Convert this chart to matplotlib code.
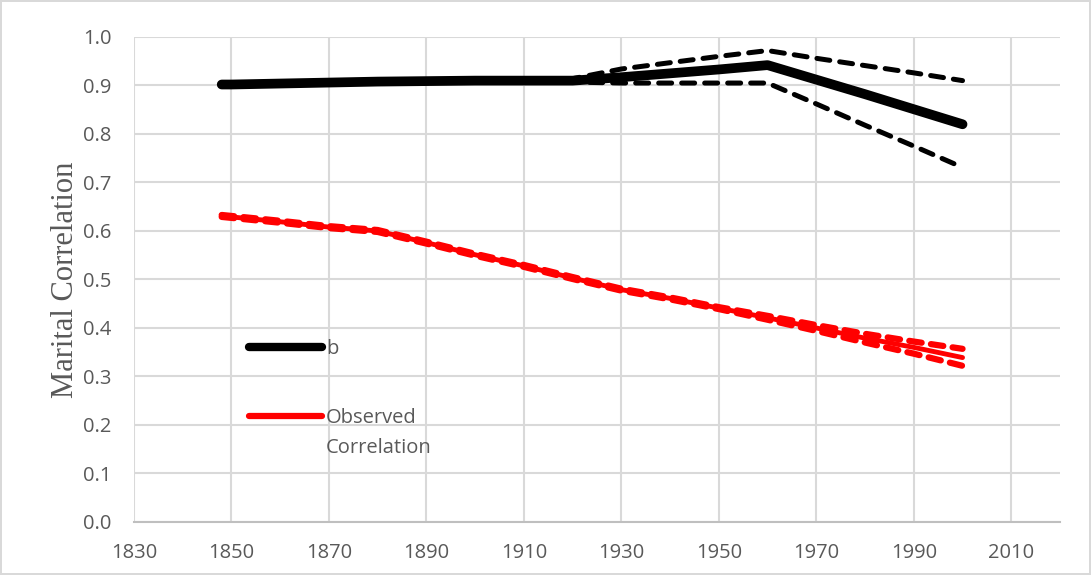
import numpy as np
import matplotlib
matplotlib.use("Agg")
import matplotlib.pyplot as plt
from matplotlib.lines import Line2D

# 数据
years = [1848, 1850, 1860, 1870, 1880, 1890, 1900, 1910, 1920, 1930, 1940, 1950, 1960, 1970, 1980, 1990, 2000]

b_mid = [0.902, 0.902, 0.904, 0.906, 0.908, 0.909, 0.910, 0.910, 0.910, 0.917, 0.925, 0.933, 0.942, 0.912, 0.882, 0.851, 0.820]
b_hi = [0.904, 0.904, 0.906, 0.908, 0.910, 0.911, 0.912, 0.912, 0.914, 0.934, 0.947, 0.960, 0.972, 0.956, 0.941, 0.926, 0.910]
b_lo = [0.900, 0.900, 0.902, 0.904, 0.906, 0.907, 0.908, 0.908, 0.907, 0.905, 0.905, 0.905, 0.905, 0.862, 0.818, 0.775, 0.731]

r_mid = [0.631, 0.629, 0.619, 0.608, 0.600, 0.576, 0.551, 0.528, 0.503, 0.479, 0.461, 0.441, 0.421, 0.400, 0.379, 0.360, 0.339]
r_hi = [0.633, 0.631, 0.621, 0.610, 0.602, 0.578, 0.553, 0.530, 0.505, 0.481, 0.463, 0.443, 0.425, 0.406, 0.388, 0.372, 0.357]
r_lo = [0.629, 0.627, 0.617, 0.606, 0.598, 0.574, 0.549, 0.526, 0.501, 0.477, 0.459, 0.439, 0.417, 0.394, 0.370, 0.347, 0.322]

xticks = [1830, 1850, 1870, 1890, 1910, 1930, 1950, 1970, 1990, 2010]
yticks = [0.0, 0.1, 0.2, 0.3, 0.4, 0.5, 0.6, 0.7, 0.8, 0.9, 1.0]

if __name__ == '__main__':
    fig = plt.figure(figsize=(10.91, 5.75), dpi=100)
    fig.patch.set_edgecolor("#d9d9d9")
    fig.patch.set_linewidth(1.5)
    ax = fig.add_axes([0.1228, 0.0922, 0.8488, 0.8435])

    # 置信区间（虚线）
    bdash = (0, (2.6, 2.0))
    ax.plot(years, b_hi, color="black", linewidth=3.6, linestyle=bdash, dash_capstyle="round")
    ax.plot(years, b_lo, color="black", linewidth=3.6, linestyle=bdash, dash_capstyle="round")
    ax.plot(years, b_mid, color="black", linewidth=7, solid_capstyle="round")

    rdash = (0, (2.0, 1.5))
    ax.plot(years, r_hi, color="red", linewidth=4.5, linestyle=rdash, dash_capstyle="round")
    ax.plot(years, r_lo, color="red", linewidth=4.5, linestyle=rdash, dash_capstyle="round")
    ax.plot(years, r_mid, color="red", linewidth=3.5, solid_capstyle="round")

    ax.set_xlim(1830, 2020)
    ax.set_ylim(0, 1.0)
    ax.set_xticks(xticks)
    ax.set_yticks(yticks)
    ax.set_yticklabels(["%.1f" % v for v in yticks])

    ax.grid(True, color="#d9d9d9", linewidth=1.5)
    ax.set_axisbelow(True)
    for s in ["top", "right", "left"]:
        ax.spines[s].set_color("none")
    ax.spines["bottom"].set_color("#bfbfbf")
    ax.spines["bottom"].set_linewidth(1.5)
    ax.tick_params(length=0, labelsize=14.5, labelcolor="#595959")
    ax.tick_params(axis="y", pad=16)
    ax.tick_params(axis="x", pad=15)
    for label in ax.get_xticklabels() + ax.get_yticklabels():
        label.set_fontfamily("Open Sans")

    ax.set_ylabel("Marital Correlation", fontsize=22, color="#595959", family="Liberation Serif", labelpad=2)

    handles = [Line2D([], [], color="black", linewidth=6, solid_capstyle="round"),
               Line2D([], [], color="red", linewidth=4.5, solid_capstyle="round")]
    leg = ax.legend(handles, ["b", "Observed"], loc="center left",
                    bbox_to_anchor=(0.105, 0.285), frameon=False, handlelength=3.6,
                    handletextpad=0.2, labelspacing=2.45,
                    prop={"family": "Open Sans", "size": 14.5})
    for t in leg.get_texts():
        t.set_color("#595959")
    # 第二行文字（画在图例之后）
    ax.annotate("Correlation", xy=(0, 0), xycoords=leg.get_texts()[1], va="top", ha="left",
                xytext=(0, -7), textcoords="offset points", zorder=10,
                fontsize=14.5, family="Open Sans", color="#595959")

    plt.savefig("out.png", dpi=100, edgecolor=fig.get_edgecolor())
